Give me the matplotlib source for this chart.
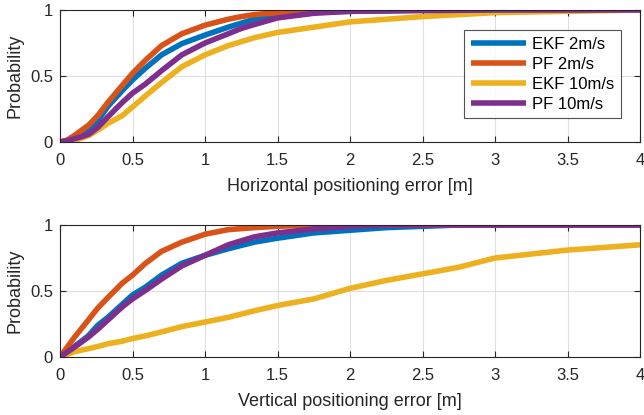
import matplotlib
matplotlib.use("Agg")
import matplotlib.pyplot as plt

plt.rcParams['font.family'] = ['Liberation Sans', 'DejaVu Sans']

labels = ["EKF 2m/s", "PF 2m/s", "EKF 10m/s", "PF 10m/s"]
colors = ["#0072BD", "#D95319", "#EDB120", "#7E2F8E"]

# Horizontal error CDF
h_x = [0, 0.05, 0.1, 0.15, 0.2, 0.26, 0.33, 0.43, 0.5, 0.59, 0.7, 0.84, 1.0, 1.16, 1.25, 1.34, 1.5, 1.75, 2.0, 2.5, 3.0, 3.5, 4.0]
h_ekf2 = [0, 0.01, 0.03, 0.06, 0.10, 0.16, 0.27, 0.39, 0.47, 0.56, 0.66, 0.745, 0.81, 0.87, 0.90, 0.93, 0.96, 0.985, 0.99, 1.0, 1.0, 1.0, 1.0]
h_pf2 = [0, 0.015, 0.05, 0.09, 0.13, 0.20, 0.30, 0.43, 0.52, 0.62, 0.73, 0.82, 0.885, 0.93, 0.95, 0.965, 0.98, 0.99, 1.0, 1.0, 1.0, 1.0, 1.0]
h_ekf10 = [0, 0.005, 0.01, 0.03, 0.05, 0.09, 0.14, 0.20, 0.265, 0.35, 0.45, 0.57, 0.66, 0.73, 0.76, 0.79, 0.83, 0.87, 0.91, 0.95, 0.98, 0.99, 1.0]
h_pf10 = [0, 0.01, 0.025, 0.04, 0.06, 0.11, 0.19, 0.30, 0.37, 0.44, 0.54, 0.66, 0.75, 0.82, 0.86, 0.89, 0.94, 0.975, 0.99, 0.995, 1.0, 1.0, 1.0]

# Vertical error CDF
v_x = [0, 0.1, 0.195, 0.26, 0.33, 0.43, 0.5, 0.59, 0.7, 0.84, 1.0, 1.16, 1.34, 1.5, 1.75, 2.0, 2.25, 2.5, 2.75, 3.0, 3.25, 3.5, 3.75, 4.0]
v_ekf2 = [0, 0.08, 0.16, 0.24, 0.30, 0.40, 0.47, 0.53, 0.62, 0.71, 0.77, 0.82, 0.87, 0.90, 0.94, 0.96, 0.98, 0.99, 1.0, 1.0, 1.0, 1.0, 1.0, 1.0]
v_pf2 = [0, 0.15, 0.28, 0.37, 0.45, 0.56, 0.62, 0.71, 0.80, 0.87, 0.93, 0.965, 0.98, 0.99, 1.0, 1.0, 1.0, 1.0, 1.0, 1.0, 1.0, 1.0, 1.0, 1.0]
v_ekf10 = [0, 0.04, 0.063, 0.08, 0.10, 0.12, 0.14, 0.16, 0.19, 0.23, 0.265, 0.30, 0.35, 0.39, 0.44, 0.52, 0.58, 0.63, 0.68, 0.75, 0.78, 0.81, 0.83, 0.85]
v_pf10 = [0, 0.075, 0.15, 0.21, 0.28, 0.38, 0.44, 0.505, 0.59, 0.69, 0.77, 0.85, 0.91, 0.94, 0.97, 0.99, 1.0, 1.0, 1.0, 1.0, 1.0, 1.0, 1.0, 1.0]

xticks = [0, 0.5, 1, 1.5, 2, 2.5, 3, 3.5, 4]
xticklabels = ["0", "0.5", "1", "1.5", "2", "2.5", "3", "3.5", "4"]
yticks = [0, 0.5, 1]
yticklabels = ["0", "0.5", "1"]

fig = plt.figure(figsize=(6.44, 4.15), dpi=100)
W, H = 644, 415
ax1 = fig.add_axes([60 / W, 1 - 142 / H, 580 / W, 132 / H])
ax2 = fig.add_axes([60 / W, 1 - 357 / H, 580 / W, 132 / H])

axc = "#262626"
for ax, xs, series, xl in [
    (ax1, h_x, [h_ekf2, h_pf2, h_ekf10, h_pf10], "Horizontal positioning error [m]"),
    (ax2, v_x, [v_ekf2, v_pf2, v_ekf10, v_pf10], "Vertical positioning error [m]"),
]:
    for s, c, lab in zip(series, colors, labels):
        ax.plot(xs, s, color=c, lw=4, label=lab, solid_capstyle='butt', solid_joinstyle='round')
    ax.set_xlim(0, 4)
    ax.set_ylim(0, 1)
    ax.set_xticks(xticks)
    ax.set_xticklabels(xticklabels)
    ax.set_yticks(yticks)
    ax.set_yticklabels(yticklabels)
    ax.grid(True, color="#dfdfdf", lw=0.8)
    ax.set_axisbelow(True)
    ax.tick_params(direction='in', length=4, colors=axc, labelsize=12, top=True, right=True,
                   labeltop=False, labelright=False)
    ax.tick_params(axis='x', pad=8)
    ax.tick_params(axis='y', pad=5)
    for sp in ax.spines.values():
        sp.set_color(axc)
        sp.set_linewidth(0.8)
    ax.set_xlabel(xl, fontsize=13, color=axc, labelpad=7)
    ax.set_ylabel("Probability", fontsize=13, color=axc, labelpad=5)

leg = ax1.legend(loc='upper left', bbox_to_anchor=(464 / W, 1 - 30 / H), bbox_transform=fig.transFigure,
                 fontsize=12, frameon=True, fancybox=False, handlelength=3.3, handletextpad=0.4,
                 borderpad=0.4, labelspacing=0.3, borderaxespad=0)
leg.get_frame().set_edgecolor(axc)
leg.get_frame().set_linewidth(0.8)
for t in leg.get_texts():
    t.set_color("black")

fig.savefig("out.png", dpi=100)
